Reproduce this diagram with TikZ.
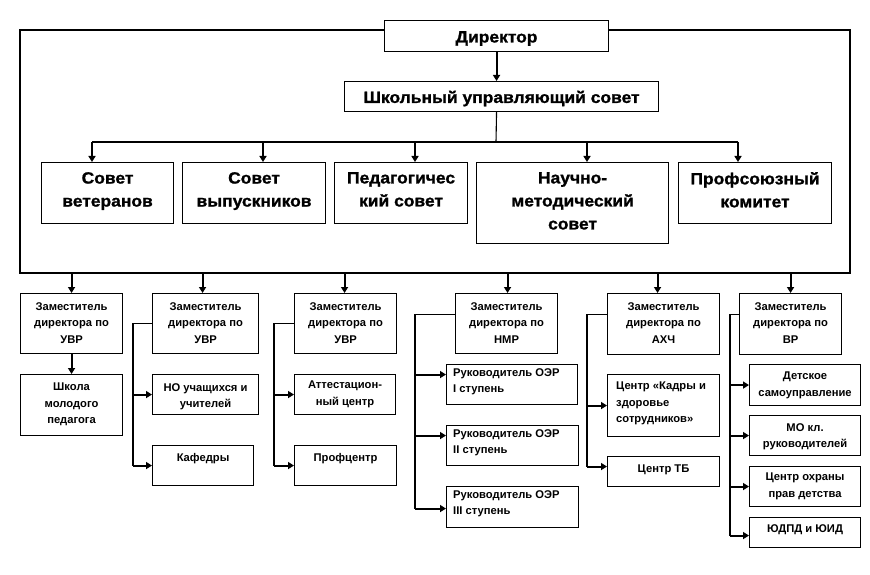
\documentclass[tikz,border=0pt]{standalone}
\usepackage{fontspec}
\setmainfont{Liberation Sans}
\newfontfamily\bigf[FakeStretch=1.07,FakeBold=1.2]{Liberation Sans}
\usetikzlibrary{arrows.meta}
\begin{document}
\begin{tikzpicture}[x=1pt,y=-1pt,
  bx/.style={draw, line width=1.1pt, inner sep=0pt, anchor=north west},
  big/.style={font=\bigf\bfseries\fontsize{16.3}{23}\selectfont, align=center, inner sep=0pt},
  sm/.style={font=\bfseries\fontsize{11.2}{16.5}\selectfont, align=center, inner sep=0pt},
  smL/.style={sm, align=left},
  ln/.style={line width=1.1pt},
  arr/.style={line width=2.1pt, -{Triangle[length=6pt,width=7pt]}},
]
\useasboundingbox (0,0) rectangle (870,575);

% top part
\node[bx, minimum width=224pt, minimum height=31pt] (dir) at (384,20) {};
\node[big] (dirt) at ([yshift=-2.5pt]dir.center) {Директор};
\node[bx, minimum width=314pt, minimum height=30pt] (shus) at (344,81) {};
\node[big] (shust) at ([yshift=-2pt]shus.center) {Школьный управляющий совет};

\node[bx, minimum width=132pt, minimum height=61pt] (b1) at (41,162) {};
\node[bx, minimum width=143pt, minimum height=61pt] (b2) at (182,162) {};
\node[bx, minimum width=133pt, minimum height=61pt] (b3) at (334,162) {};
\node[bx, minimum width=192pt, minimum height=81pt] (b4) at (476,162) {};
\node[bx, minimum width=153pt, minimum height=61pt] (b5) at (678,162) {};
\node[big, anchor=north] (b1t) at ([yshift=-10pt]b1.north) {Совет\\ветеранов};
\node[big, anchor=north] (b2t) at ([yshift=-10pt]b2.north) {Совет\\выпускников};
\node[big, anchor=north] (b3t) at ([yshift=-10pt]b3.north) {Педагогичес\\кий совет};
\node[big, anchor=north] (b4t) at ([yshift=-10pt]b4.north) {Научно-\\методический\\совет};
\node[big, anchor=north] (b5t) at ([yshift=-10pt]b5.north) {Профсоюзный\\комитет};

% frame
\coordinate (fTL) at (20,30);
\coordinate (fBL) at (20,273);
\coordinate (fBR) at (850,273);
\coordinate (fTR) at (850,30);
\draw[ln] (dir.west |- fTL) -- (fTL) -- (fBL) -- (fBR) -- (fTR) -- (dir.east |- fTR);

% director -> council -> bus
\draw[arr] (dir.south) -- (dir.south |- shus.north);
\coordinate (bus) at (496,142);
\coordinate (d1) at (92,142);
\coordinate (d2) at (263,142);
\coordinate (d3) at (415,142);
\coordinate (d4) at (587,142);
\coordinate (d5) at (738,142);
\draw[ln] (dir.south |- shus.south) -- (bus);
\draw[ln] (d1) -- (d5);
\draw[arr] (d1) -- (d1 |- b1.north);
\draw[arr] (d2) -- (d2 |- b2.north);
\draw[arr] (d3) -- (d3 |- b3.north);
\draw[arr] (d4) -- (d4 |- b4.north);
\draw[arr] (d5) -- (d5 |- b5.north);

% second row: deputies
\node[bx, minimum width=102pt, minimum height=60pt] (z1) at (20,293) {};
\node[bx, minimum width=106pt, minimum height=60pt] (z2) at (152,293) {};
\node[bx, minimum width=102pt, minimum height=60pt] (z3) at (294,293) {};
\node[bx, minimum width=102pt, minimum height=60pt] (z4) at (455,293) {};
\node[bx, minimum width=112pt, minimum height=61pt] (z5) at (607,293) {};
\node[bx, minimum width=102pt, minimum height=61pt] (z6) at (739,293) {};
\node[sm, anchor=north] (z1t) at ([yshift=-9pt]z1.north) {Заместитель\\директора по\\УВР};
\node[sm, anchor=north] (z2t) at ([yshift=-9pt]z2.north) {Заместитель\\директора по\\УВР};
\node[sm, anchor=north] (z3t) at ([yshift=-9pt]z3.north) {Заместитель\\директора по\\УВР};
\node[sm, anchor=north] (z4t) at ([yshift=-9pt]z4.north) {Заместитель\\директора по\\НМР};
\node[sm, anchor=north] (z5t) at ([yshift=-9pt]z5.north) {Заместитель\\директора по\\АХЧ};
\node[sm, anchor=north] (z6t) at ([yshift=-9pt]z6.north) {Заместитель\\директора по\\ВР};

\draw[arr] ([xshift=0pt]z1.north |- fBL) -- (z1.north);
\draw[arr] ([xshift=-3pt]z2.north |- fBL) -- ([xshift=-3pt]z2.north);
\draw[arr] ([xshift=-1pt]z3.north |- fBL) -- ([xshift=-1pt]z3.north);
\draw[arr] ([xshift=1pt]z4.north |- fBL) -- ([xshift=1pt]z4.north);
\draw[arr] ([xshift=-6pt]z5.north |- fBL) -- ([xshift=-6pt]z5.north);
\draw[arr] (z6.north |- fBL) -- (z6.north);

% third level
\node[bx, minimum width=102pt, minimum height=61pt] (shk) at (20,374) {};
\node[sm, anchor=north] (shkt) at ([yshift=-9pt]shk.north) {Школа\\молодого\\педагога};
\draw[arr] (z1.south) -- (shk.north);

\node[bx, minimum width=106pt, minimum height=40pt] (no) at (152,374) {};
\node[bx, minimum width=101pt, minimum height=40pt] (kaf) at (152,445) {};
\node[sm, anchor=north] (not) at ([yshift=-9pt]no.north) {НО учащихся и\\учителей};
\node[sm, anchor=north] (kaft) at ([yshift=-8pt]kaf.north) {Кафедры};
\coordinate (v2) at (133,0);
\draw[ln] (z2.west) -- (z2.west -| v2) -- (kaf.west -| v2);
\draw[arr] (no.west -| v2) -- (no.west);
\draw[arr] (kaf.west -| v2) -- (kaf.west);

\node[bx, minimum width=101pt, minimum height=40pt] (att) at (294,374) {};
\node[bx, minimum width=102pt, minimum height=40pt] (prof) at (294,445) {};
\node[sm, anchor=north] (attt) at ([yshift=-7pt]att.north) {Аттестацион-\\ный центр};
\node[sm, anchor=north] (proft) at ([yshift=-8pt]prof.north) {Профцентр};
\coordinate (v3) at (274,0);
\draw[ln] (z3.west) -- (z3.west -| v3) -- (prof.west -| v3);
\draw[arr] (att.west -| v3) -- (att.west);
\draw[arr] (prof.west -| v3) -- (prof.west);

\node[bx, minimum width=131pt, minimum height=40pt] (r1) at (446,364) {};
\node[bx, minimum width=132pt, minimum height=40pt] (r2) at (446,425) {};
\node[bx, minimum width=132pt, minimum height=41pt] (r3) at (446,486) {};
\node[smL, anchor=north west] (r1t) at ([xshift=7pt,yshift=-4pt]r1.north west) {Руководитель ОЭР\\I ступень};
\node[smL, anchor=north west] (r2t) at ([xshift=7pt,yshift=-4pt]r2.north west) {Руководитель ОЭР\\II ступень};
\node[smL, anchor=north west] (r3t) at ([xshift=7pt,yshift=-4pt]r3.north west) {Руководитель ОЭР\\III ступень};
\coordinate (v4) at (415,0);
\draw[ln] ([yshift=9pt]z4.west) -- ([yshift=9pt]z4.west -| v4) -- ([yshift=-1.5pt]r3.west -| v4);
\draw[arr] ([yshift=10pt]r1.west -| v4) -- ([yshift=10pt]r1.west);
\draw[arr] ([yshift=10pt]r2.west -| v4) -- ([yshift=10pt]r2.west);
\draw[arr] ([yshift=-1.5pt]r3.west -| v4) -- ([yshift=-1.5pt]r3.west);

\node[bx, minimum width=112pt, minimum height=62pt] (kad) at (607,374) {};
\node[bx, minimum width=112pt, minimum height=30pt] (tb) at (607,456) {};
\node[smL, anchor=north west] (kadt) at ([xshift=9pt,yshift=-8pt]kad.north west) {Центр «Кадры и\\здоровье\\сотрудников»};
\node[sm, anchor=north] (tbt) at ([yshift=-9pt]tb.north) {Центр ТБ};
\coordinate (v5) at (587,0);
\draw[ln] ([yshift=9.5pt]z5.west) -- ([yshift=9.5pt]z5.west -| v5) -- ([yshift=5pt]tb.west -| v5);
\draw[arr] (kad.west -| v5) -- (kad.west);
\draw[arr] ([yshift=5pt]tb.west -| v5) -- ([yshift=5pt]tb.west);

\node[bx, minimum width=111pt, minimum height=41pt] (det) at (749,364) {};
\node[bx, minimum width=111pt, minimum height=40pt] (mo) at (749,415) {};
\node[bx, minimum width=111pt, minimum height=40pt] (ohr) at (749,466) {};
\node[bx, minimum width=111pt, minimum height=30pt] (yud) at (749,517) {};
\node[sm, anchor=north] (dett) at ([yshift=-8pt]det.north) {Детское\\самоуправление};
\node[sm, anchor=north] (mot) at ([yshift=-8pt]mo.north) {МО кл.\\руководителей};
\node[sm, anchor=north] (ohrt) at ([yshift=-7pt]ohr.north) {Центр охраны\\прав детства};
\node[sm, anchor=north] (yudt) at ([yshift=-7pt]yud.north) {ЮДПД и ЮИД};
\coordinate (v6) at (730,0);
\draw[ln] ([yshift=9.5pt]z6.west) -- ([yshift=9.5pt]z6.west -| v6) -- ([yshift=-3pt]yud.west -| v6);
\draw[arr] (det.west -| v6) -- (det.west);
\draw[arr] (mo.west -| v6) -- (mo.west);
\draw[arr] (ohr.west -| v6) -- (ohr.west);
\draw[arr] ([yshift=-3pt]yud.west -| v6) -- ([yshift=-3pt]yud.west);
\end{tikzpicture}
\end{document}
